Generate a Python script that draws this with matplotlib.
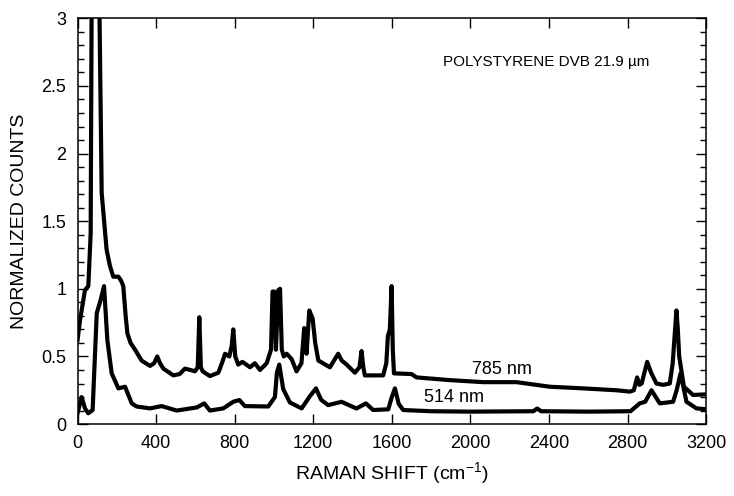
import matplotlib
matplotlib.use('agg')
import matplotlib.pyplot as plt
from matplotlib.ticker import MultipleLocator, FormatStrFormatter

plt.rcParams['font.family'] = ['Liberation Sans', 'DejaVu Sans']

# 785 nm excitation spectrum
shift_785 = [0, 13, 38, 55, 67, 73, 108, 123, 148, 165, 182, 208, 222, 233, 245, 254,
             270, 293, 326, 369, 390, 406, 420, 437, 488, 520, 547, 575, 598, 612, 620,
             628, 637, 674, 717, 740, 751, 773, 785, 793, 803, 818, 840, 878, 903, 929,
             963, 985, 993, 1001, 1010, 1022, 1031, 1040, 1050, 1065, 1090, 1115, 1140,
             1154, 1166, 1180, 1197, 1210, 1226, 1285, 1310, 1327, 1345, 1370, 1412,
             1435, 1446, 1455, 1463, 1556, 1572, 1580, 1590, 1599, 1605, 1611, 1700,
             1726, 1896, 2065, 2235, 2405, 2574, 2744, 2812, 2832, 2849, 2860, 2872, 2900,
             2920, 2947, 2981, 3015, 3030, 3042, 3049, 3056, 3063, 3087, 3134, 3200]
counts_785 = [0.62, 0.77, 0.99, 1.02, 1.41, 3.5, 3.5, 1.71, 1.29, 1.17, 1.09, 1.09, 1.06,
              1.02, 0.80, 0.67, 0.60, 0.55, 0.47, 0.43, 0.45, 0.50, 0.45, 0.41, 0.36,
              0.37, 0.41, 0.40, 0.39, 0.42, 0.79, 0.42, 0.39, 0.355, 0.38, 0.47, 0.52,
              0.50, 0.58, 0.70, 0.50, 0.44, 0.46, 0.42, 0.45, 0.40, 0.45, 0.55, 0.98,
              0.98, 0.55, 0.99, 1.00, 0.55, 0.50, 0.52, 0.48, 0.39, 0.45, 0.71, 0.52,
              0.84, 0.78, 0.60, 0.47, 0.42, 0.48, 0.52, 0.47, 0.44, 0.38, 0.42, 0.54,
              0.42, 0.36, 0.36, 0.45, 0.65, 0.70, 1.02, 0.55, 0.375, 0.37, 0.345, 0.325,
              0.31, 0.31, 0.276, 0.264, 0.25, 0.24, 0.25, 0.345, 0.29, 0.30, 0.46, 0.38,
              0.30, 0.29, 0.30, 0.45, 0.70, 0.84, 0.70, 0.50, 0.276, 0.215, 0.22]

# 514 nm excitation spectrum
shift_514 = [0, 21, 38, 55, 77, 90, 98, 118, 135, 152, 174, 208, 242, 276, 301, 369, 428,
             505, 607, 645, 674, 742, 793, 824, 852, 971, 1005, 1015, 1027, 1047, 1081,
             1141, 1180, 1214, 1240, 1276, 1344, 1420, 1468, 1505, 1582, 1600, 1616,
             1635, 1658, 1800, 2000, 2320, 2340, 2360, 2600, 2815, 2862, 2890, 2922,
             2964, 3032, 3050, 3070, 3100, 3151, 3200]
counts_514 = [0.08, 0.20, 0.116, 0.08, 0.104, 0.55, 0.82, 0.92, 1.02, 0.62, 0.375, 0.264,
              0.276, 0.153, 0.13, 0.116, 0.133, 0.10, 0.123, 0.153, 0.10, 0.116, 0.165,
              0.178, 0.133, 0.13, 0.20, 0.38, 0.44, 0.26, 0.16, 0.116, 0.20, 0.264, 0.18,
              0.14, 0.165, 0.115, 0.153, 0.104, 0.109, 0.20, 0.264, 0.15, 0.104, 0.095,
              0.092, 0.095, 0.115, 0.095, 0.092, 0.095, 0.153, 0.165, 0.25, 0.153, 0.165,
              0.25, 0.375, 0.165, 0.116, 0.11]

fig = plt.figure(figsize=(7.34, 4.96), dpi=100)
ax = fig.add_axes([0.1056, 0.145, 0.8564, 0.818])

ax.plot(shift_785, counts_785, color='black', lw=3.0, solid_joinstyle='round')
ax.plot(shift_514, counts_514, color='black', lw=3.0, solid_joinstyle='round')

ax.set_xlim(0, 3200)
ax.set_ylim(0, 3)
ax.xaxis.set_major_locator(MultipleLocator(400))
ax.yaxis.set_major_locator(MultipleLocator(0.5))
ax.yaxis.set_minor_locator(MultipleLocator(0.1))
ax.yaxis.set_major_formatter(FormatStrFormatter('%g'))

ax.tick_params(which='both', direction='in', top=True, right=True, labelsize=13, width=1)
ax.tick_params(which='major', length=7, pad=8)
ax.tick_params(which='minor', length=4)
for s in ax.spines.values():
    s.set_linewidth(1.1)

ax.set_xlabel('RAMAN SHIFT (cm$^{\\mathregular{-1}}$)', fontsize=14, labelpad=6)
ax.set_ylabel('NORMALIZED COUNTS', fontsize=14, labelpad=10)

ax.text(1860, 2.68, 'POLYSTYRENE DVB 21.9 \u00b5m', fontsize=11, va='center')
ax.text(2160, 0.40, '785 nm', fontsize=13, ha='center', va='center')
ax.text(1916, 0.20, '514 nm', fontsize=13, ha='center', va='center')

fig.savefig('out.png', dpi=100)
